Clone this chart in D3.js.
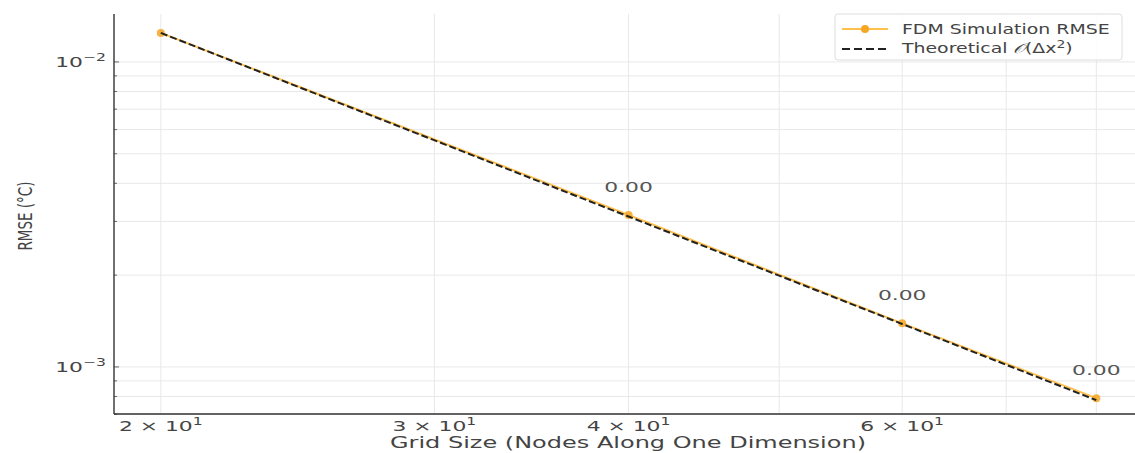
<!DOCTYPE html>
<html><head><meta charset="utf-8">
<script src="https://cdn.jsdelivr.net/npm/d3@7"></script>
<style>body{margin:0;background:#fff;}svg{display:block;font-family:"DejaVu Sans",sans-serif;}</style>
</head><body><svg id="c" width="1135" height="453"></svg>
<script>
const gridSizes = [20, 40, 60, 80];
const rmse = [0.01245, 0.00315, 0.00139, 0.00079];
const theoretical = [0.01245, 0.0031125, 0.0013833, 0.00077813];
const annotated = [false, true, true, true];
const xTickValues = [20, 30, 40, 60];
const xTickLabels = ["2", "3", "4", "6"];
const xGridValues = [20, 30, 40, 50, 60, 70, 80];
const yMajor = [0.01, 0.001];
const yMajorExp = ["\u22122", "\u22123"];
const yMinor = [0.0007,0.0008,0.0009,0.002,0.003,0.004,0.005,0.006,0.007,0.008,0.009];

const SX = 1.56; // horizontal text stretch
const FS = 14;
const svg = d3.select("#c");
const L = 114, T = 14, B = 414, R = 1143;
const x = d3.scaleLog().domain([18.66, 85.73]).range([L, R]);
const y = d3.scaleLog().domain([0.000701, 0.01436]).range([B, T]);

function stext(parent, px, py, anchor, sx, fs) {
  return parent.append("text").attr("transform", `translate(${px},${py}) scale(${sx || SX},1)`)
    .attr("text-anchor", anchor).attr("font-size", fs || FS).attr("fill", "#444");
}

const g = svg.append("g");
// grid
g.selectAll(".yg").data(yMinor.concat(yMajor)).enter().append("line")
  .attr("x1", L).attr("x2", R).attr("y1", d => y(d)).attr("y2", d => y(d))
  .attr("stroke", "#e8e8e8").attr("stroke-width", 1);
g.selectAll(".xg").data(xGridValues).enter().append("line")
  .attr("x1", d => x(d)).attr("x2", d => x(d)).attr("y1", T).attr("y2", B)
  .attr("stroke", "#e8e8e8").attr("stroke-width", 1);

// y ticks
g.selectAll(".ytm").data(yMinor).enter().append("line")
  .attr("x1", L).attr("x2", L + 3).attr("y1", d => y(d)).attr("y2", d => y(d))
  .attr("stroke", "#666");
g.selectAll(".ytM").data(yMajor).enter().append("line")
  .attr("x1", L).attr("x2", L + 5).attr("y1", d => y(d)).attr("y2", d => y(d))
  .attr("stroke", "#666");
yMajor.forEach((v, i) => {
  const t = stext(g, L - 8, y(v) + 5, "end");
  t.append("tspan").text("10");
  t.append("tspan").attr("dy", -6).attr("font-size", 10).text(yMajorExp[i]);
});
// x tick labels
xTickValues.forEach((v, i) => {
  const t = stext(g, x(v), B + 17, "middle");
  t.append("tspan").text(xTickLabels[i] + " \u00d7 10");
  t.append("tspan").attr("dy", -6).attr("font-size", 10).text("1");
});

// axes spines
g.append("line").attr("x1", L).attr("x2", L).attr("y1", T).attr("y2", B).attr("stroke", "#333").attr("stroke-width", 1.4);
g.append("line").attr("x1", L).attr("x2", R).attr("y1", B).attr("y2", B).attr("stroke", "#333").attr("stroke-width", 1.4);

// labels
stext(g, 628, 448, "middle", 1.6, 15).text("Grid Size (Nodes Along One Dimension)");
g.append("text").attr("transform", `translate(32,216) scale(1.45,1) rotate(-90)`)
  .attr("text-anchor", "middle").attr("font-size", 13.5).attr("fill", "#444").text("RMSE (\u00b0C)");

// series
const pts = gridSizes.map((n, i) => ({n, v: rmse[i], t: theoretical[i], a: annotated[i]}));
const line1 = d3.line().x(d => x(d.n)).y(d => y(d.v));
const line2 = d3.line().x(d => x(d.n)).y(d => y(d.t));
g.append("path").datum(pts).attr("d", line1).attr("fill", "none")
  .attr("stroke", "#ffb020").attr("stroke-width", 2).attr("stroke-opacity", 0.8);
g.selectAll(".pt").data(pts).enter().append("circle")
  .attr("cx", d => x(d.n)).attr("cy", d => y(d.v)).attr("r", 4)
  .attr("fill", "#f5a623").attr("fill-opacity", 0.85);
g.append("path").datum(pts).attr("d", line2).attr("fill", "none")
  .attr("stroke", "#222").attr("stroke-width", 2).attr("stroke-dasharray", "7,3");
pts.filter(d => d.a).forEach(d => {
  stext(g, x(d.n), y(d.v) - 23, "middle").attr("fill", "#555").text(d.v.toFixed(2));
});

// legend
const lg = g.append("g");
lg.append("rect").attr("x", 835).attr("y", 14).attr("width", 287).attr("height", 46).attr("rx", 3)
  .attr("fill", "#fff").attr("fill-opacity", 0.85).attr("stroke", "#ddd");
lg.append("line").attr("x1", 842).attr("x2", 888).attr("y1", 29).attr("y2", 29)
  .attr("stroke", "#ffb020").attr("stroke-width", 2).attr("stroke-opacity", 0.8);
lg.append("circle").attr("cx", 865).attr("cy", 29).attr("r", 4).attr("fill", "#f5a623");
stext(lg, 902, 34, "start", 1.4, 13.5).text("FDM Simulation RMSE");
lg.append("line").attr("x1", 842).attr("x2", 888).attr("y1", 49).attr("y2", 49)
  .attr("stroke", "#222").attr("stroke-width", 2).attr("stroke-dasharray", "8,4");
const lt = stext(lg, 902, 53, "start", 1.4, 13.5);
lt.append("tspan").text("Theoretical ");
lt.append("tspan").attr("font-style", "italic").text("\ud835\udcaa");
lt.append("tspan").text("(\u0394x");
lt.append("tspan").attr("dy", -5).attr("font-size", 10).text("2");
lt.append("tspan").attr("dy", 5).text(")");
</script></body></html>
